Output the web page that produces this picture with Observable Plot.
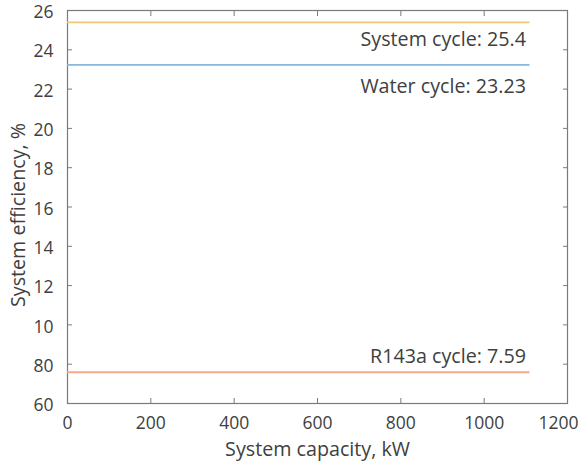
<!DOCTYPE html>
<html><head><meta charset="utf-8">
<script src="https://cdn.jsdelivr.net/npm/d3@7"></script>
<script src="https://cdn.jsdelivr.net/npm/@observablehq/plot@0.6"></script>
<style>body{margin:0;background:#fff;} svg{font-family:"Open Sans",sans-serif;}</style>
</head><body><div id="chart"></div>
<script>
const series = ["System cycle", "Water cycle", "R143a cycle"];
const efficiency = [25.4, 23.23, 7.59];
const labels = ["System cycle: 25.4", "Water cycle: 23.23", "R143a cycle: 7.59"];
const colors = ["#EDC77A", "#86B8DE", "#F5A98A"];
const capacityStart = [0, 0, 0];
const capacityEnd = [1110, 1110, 1110];
const xTicks = [0, 200, 400, 600, 800, 1000, 1200];
const yTicks = [6, 8, 10, 12, 14, 16, 18, 20, 22, 24, 26];
const yTickLabels = ["60", "80", "10", "12", "14", "16", "18", "20", "22", "24", "26"];

const rows = series.map((s, i) => ({s, y: efficiency[i], x1: capacityStart[i], x2: capacityEnd[i], label: labels[i], color: colors[i]}));
const labelDy = {"System cycle": 17, "Water cycle": 22, "R143a cycle": -16};
const ink = "#404040", axisInk = "#7a7a7a";
const fs = 17.5, fsLabel = 19.7;

const chart = Plot.plot({
  width: 582, height: 463,
  marginLeft: 67, marginRight: 15, marginTop: 10, marginBottom: 60,
  x: {domain: [0, 1200]},
  y: {domain: [6, 26]},
  style: {fontSize: fs + "px", color: ink, fontFamily: "'Open Sans', sans-serif"},
  marks: [
    Plot.frame({stroke: axisInk, strokeWidth: 1.2}),
    Plot.axisX({ticks: xTicks, tickSize: -5, tickPadding: 18, tickFormat: d => String(d), stroke: axisInk, color: ink, fontSize: fs, label: null}),
    Plot.axisX({ticks: [], label: "System capacity, kW", labelAnchor: "center", labelArrow: "none", labelOffset: 52, fontSize: fsLabel, color: ink, tickSize: 0}),
    Plot.axisX({anchor: "top", ticks: xTicks, tickSize: -5, tickFormat: () => "", stroke: axisInk, label: null}),
    Plot.axisY({ticks: yTicks, tickSize: -5, tickPadding: 19, tickFormat: (d) => yTickLabels[yTicks.indexOf(d)], stroke: axisInk, color: ink, fontSize: fs, label: null}),
    Plot.axisY({ticks: [], label: "System efficiency, %", labelAnchor: "center", labelArrow: "none", labelOffset: 57, fontSize: fsLabel, color: ink, tickSize: 0}),
    Plot.axisY({anchor: "right", ticks: yTicks, tickSize: -5, tickFormat: () => "", stroke: axisInk, label: null}),
    Plot.ruleY(rows, {y: "y", x1: "x1", x2: "x2", stroke: d => d.color, strokeWidth: 1.8}),
    ...rows.map(r => Plot.text([r], {x: "x2", y: "y", text: "label", textAnchor: "end", dx: -4, dy: labelDy[r.s], fill: ink, fontSize: fsLabel}))
  ]
});
document.getElementById("chart").append(chart);
const shift = (el, dx, dy) => {
  const tr = el.getAttribute("transform") || "";
  el.setAttribute("transform", tr + ` translate(${dx},${dy})`);
};
// keep the last x tick label inside the figure, as in the reference
chart.querySelectorAll('g[aria-label="x-axis tick label"] text').forEach(t => {
  if (t.textContent === "1200") shift(t, -9, 0);
});
// y tick labels sit slightly below their ticks in the reference
chart.querySelectorAll('g[aria-label="y-axis tick label"] text').forEach(t => shift(t, 0, 2));
// y axis title is centred a little below the frame centre
chart.querySelectorAll('g[aria-label="y-axis label"] text').forEach(t => {
  t.setAttribute("transform", (t.getAttribute("transform") || "").replace(/rotate\(-90\)/, "rotate(-90) translate(-8,0)"));
});
</script></body></html>
